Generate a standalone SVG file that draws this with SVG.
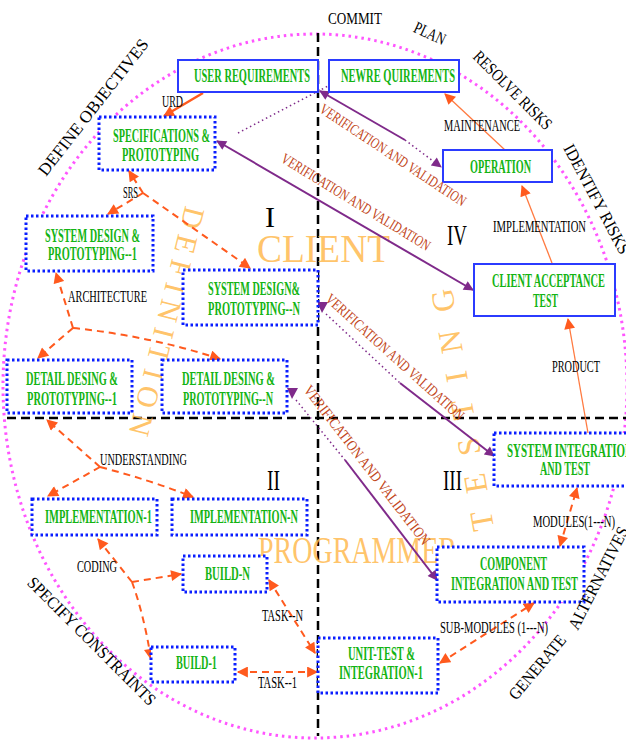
<svg xmlns="http://www.w3.org/2000/svg" width="626" height="740" viewBox="0 0 626 740">
<defs>
<marker id="ao" viewBox="0 0 10 10" refX="9" refY="5" markerWidth="12" markerHeight="11" markerUnits="userSpaceOnUse" orient="auto-start-reverse"><path d="M0,0 L10,5 L0,10 z" fill="#FF5A1E"/></marker>
<marker id="ap" viewBox="0 0 10 10" refX="9" refY="5" markerWidth="12" markerHeight="10" markerUnits="userSpaceOnUse" orient="auto-start-reverse"><path d="M0,0 L10,5 L0,10 z" fill="#7F2A8A"/></marker>
</defs>
<style>
.sb{fill:#fff;stroke:#2B3BFF;stroke-width:2}
.db{fill:#fff;stroke:#0A1EFF;stroke-width:3;stroke-dasharray:2.5 2.5}
.bt{font-family:"Liberation Serif",serif;font-weight:bold;font-size:19px;fill:#14B414;text-anchor:middle}
.lb{font-family:"Liberation Serif",serif;font-size:16px;fill:#000;text-anchor:middle}
.ed{font-family:"Liberation Serif",serif;font-size:17px;fill:#000;text-anchor:middle}
.rn{font-family:"Liberation Serif",serif;font-size:30px;fill:#000;text-anchor:middle}
.vv{font-family:"Liberation Serif",serif;font-size:15px;fill:#C2461A;text-anchor:middle}
.big{font-family:"Liberation Serif",serif;fill:#FFBA50;fill-opacity:0.85;text-anchor:middle}
.od{fill:none;stroke:#FF5A1E;stroke-width:2;stroke-dasharray:7 5}
.os{fill:none;stroke:#FF7A40;stroke-width:1.3}
.ps{fill:none;stroke:#7F2A8A;stroke-width:2}
.pd{fill:none;stroke:#7F2A8A;stroke-width:1.5;stroke-dasharray:1.5 3}
</style>
<rect width="626" height="740" fill="#fff"/>
<ellipse cx="315" cy="386" rx="312" ry="352" fill="none" stroke="#FF55FF" stroke-width="3" stroke-dasharray="2.5 4"/>
<g id="axes" fill="none" stroke="#000" stroke-width="2.5" stroke-dasharray="9 5">
<line x1="318" y1="33" x2="318" y2="736"/>
<line x1="7" y1="418" x2="626" y2="418"/>
</g>
<g id="watermarks">
<text class="big" x="323.5" y="262" font-size="40" textLength="133" lengthAdjust="spacingAndGlyphs">CLIENT</text>
<text class="big" x="357.5" y="563" font-size="38" textLength="199" lengthAdjust="spacingAndGlyphs">PROGRAMMER</text>
<text class="big" transform="translate(473,408) rotate(-100)" font-size="32" textLength="245" lengthAdjust="spacing">TESTING</text>
<text class="big" transform="translate(157,319) rotate(104)" font-size="30" textLength="235" lengthAdjust="spacing">DEFINITION</text>
</g>
<g id="connectors">
<path class="od" d="M143,193 L129,171" marker-end="url(#ao)"/>
<path class="od" d="M143,193 L108,214" marker-end="url(#ao)"/>
<path class="od" d="M143,193 L250,268" marker-end="url(#ao)"/>
<path class="od" d="M73,328 L56,273" marker-end="url(#ao)"/>
<path class="od" d="M73,328 L38,358" marker-end="url(#ao)"/>
<path class="od" d="M73,328 Q150,336 220,359" marker-end="url(#ao)"/>
<path class="od" d="M100,467 L47,420" marker-end="url(#ao)"/>
<path class="od" d="M100,467 L48,496" marker-end="url(#ao)"/>
<path class="od" d="M100,467 Q150,480 193,497" marker-end="url(#ao)"/>
<path class="od" d="M132,582 L98,539" marker-end="url(#ao)"/>
<path class="od" d="M132,582 L181,574" stroke-width="3" marker-end="url(#ao)"/>
<path class="od" d="M132,582 Q144,615 151,659" marker-end="url(#ao)"/>
<path class="od" d="M269,580 L315,653" marker-start="url(#ao)" marker-end="url(#ao)"/>
<path class="od" d="M238,672 L317,672" marker-start="url(#ao)" marker-end="url(#ao)"/>
<path class="od" d="M440,663 L534,603" marker-start="url(#ao)" marker-end="url(#ao)"/>
<path class="od" d="M560,546 L577,488" marker-start="url(#ao)" marker-end="url(#ao)"/>
<path class="os" d="M588,433 L568,319" marker-end="url(#ao)"/>
<path class="os" d="M552,263 L522,186" marker-end="url(#ao)"/>
<path class="os" d="M505,150 L445,94" marker-end="url(#ao)"/>
<path fill="none" stroke="#FF5A1E" stroke-width="2.5" d="M203,93 L164,116" marker-end="url(#ao)"/>
<path class="pd" d="M238,133 L330,85"/>
<path class="ps" d="M405,140 L320,91" marker-end="url(#ap)"/>
<path class="pd" d="M405,140 L441,167" marker-end="url(#ap)"/>
<path class="ps" d="M217,141 L473,290" marker-start="url(#ap)" marker-end="url(#ap)"/>
<path class="pd" d="M326,314 L400,383"/>
<path class="ps" stroke-width="1.5" d="M400,383 L494,456" marker-end="url(#ap)"/>
<polygon points="317,302 328,302 322,313" fill="#7F2A8A"/>
<path class="pd" d="M296,400 L345,460"/>
<path class="ps" stroke-width="1.5" d="M345,460 L437,580" marker-end="url(#ap)"/>
<polygon points="287,388 298,388 292,399" fill="#7F2A8A"/>
</g>
<g id="user-requirements"><rect class="sb" x="178" y="60" width="140" height="32"/><text class="bt" x="252" y="82" textLength="116" lengthAdjust="spacingAndGlyphs">USER REQUIREMENTS</text></g>
<g id="new-requirements"><rect class="sb" x="329" y="60" width="130" height="32"/><text class="bt" x="398" y="82" textLength="114" lengthAdjust="spacingAndGlyphs">NEWRE QUIREMENTS</text></g>
<g id="specifications"><rect class="db" x="99" y="117" width="116" height="53"/><text class="bt" x="161.5" y="142" textLength="97" lengthAdjust="spacingAndGlyphs">SPECIFICATIONS &amp;</text><text class="bt" x="160.5" y="161" textLength="77" lengthAdjust="spacingAndGlyphs">PROTOTYPING</text></g>
<g id="operation"><rect class="sb" x="443" y="150" width="109" height="32"/><text class="bt" x="500.5" y="173" textLength="61" lengthAdjust="spacingAndGlyphs">OPERATION</text></g>
<g id="system-design-1"><rect class="db" x="26" y="216" width="127" height="55"/><text class="bt" x="92.5" y="242" textLength="95" lengthAdjust="spacingAndGlyphs">SYSTEM DESIGN &amp;</text><text class="bt" x="92.5" y="260" textLength="89" lengthAdjust="spacingAndGlyphs">PROTOTYPING--1</text></g>
<g id="system-design-n"><rect class="db" x="183" y="270" width="135" height="55"/><text class="bt" x="254" y="295" textLength="92" lengthAdjust="spacingAndGlyphs">SYSTEM DESIGN&amp;</text><text class="bt" x="254" y="315" textLength="92" lengthAdjust="spacingAndGlyphs">PROTOTYPING--N</text></g>
<g id="detail-design-1"><rect class="db" x="7" y="360" width="125" height="53"/><text class="bt" x="72" y="385" textLength="92" lengthAdjust="spacingAndGlyphs">DETAIL DESING &amp;</text><text class="bt" x="72" y="405" textLength="90" lengthAdjust="spacingAndGlyphs">PROTOTYPING--1</text></g>
<g id="detail-design-n"><rect class="db" x="162" y="360" width="125" height="53"/><text class="bt" x="228.5" y="385" textLength="93" lengthAdjust="spacingAndGlyphs">DETAIL DESING &amp;</text><text class="bt" x="228" y="405" textLength="90" lengthAdjust="spacingAndGlyphs">PROTOTYPING--N</text></g>
<g id="client-acceptance"><rect class="sb" x="474" y="264" width="141" height="52"/><text class="bt" x="548.5" y="287" textLength="113" lengthAdjust="spacingAndGlyphs">CLIENT ACCEPTANCE</text><text class="bt" x="545.5" y="307" textLength="25" lengthAdjust="spacingAndGlyphs">TEST</text></g>
<g id="system-integration"><rect class="db" x="494" y="433" width="146" height="53"/><text class="bt" x="507" y="457" style="text-anchor:start" textLength="126" lengthAdjust="spacingAndGlyphs">SYSTEM INTEGRATION</text><text class="bt" x="565" y="475" textLength="50" lengthAdjust="spacingAndGlyphs">AND TEST</text></g>
<g id="implementation-1"><rect class="db" x="32" y="499" width="125" height="36"/><text class="bt" x="98.5" y="523" textLength="107" lengthAdjust="spacingAndGlyphs">IMPLEMENTATION-1</text></g>
<g id="implementation-n"><rect class="db" x="172" y="499" width="135" height="36"/><text class="bt" x="244" y="523" textLength="108" lengthAdjust="spacingAndGlyphs">IMPLEMENTATION-N</text></g>
<g id="build-n"><rect class="db" x="183" y="556" width="84" height="36"/><text class="bt" x="227.5" y="580" textLength="45" lengthAdjust="spacingAndGlyphs">BUILD-N</text></g>
<g id="build-1"><rect class="db" x="151" y="647" width="84" height="35"/><text class="bt" x="196.5" y="669" textLength="41" lengthAdjust="spacingAndGlyphs">BUILD-1</text></g>
<g id="component-integration"><rect class="db" x="437" y="547" width="147" height="55"/><text class="bt" x="513.5" y="570" textLength="67" lengthAdjust="spacingAndGlyphs">COMPONENT</text><text class="bt" x="514.5" y="590" textLength="127" lengthAdjust="spacingAndGlyphs">INTEGRATION AND TEST</text></g>
<g id="unit-test"><rect class="db" x="318" y="638" width="120" height="55"/><text class="bt" x="381.5" y="660" textLength="67" lengthAdjust="spacingAndGlyphs">UNIT-TEST &amp;</text><text class="bt" x="381" y="679" textLength="84" lengthAdjust="spacingAndGlyphs">INTEGRATION-1</text></g>
<g id="labels">
<text class="lb" x="172.5" y="107" textLength="21" lengthAdjust="spacingAndGlyphs">URD</text>
<text class="lb" x="130.5" y="198" textLength="15" lengthAdjust="spacingAndGlyphs">SRS</text>
<text class="lb" x="107.5" y="302" textLength="79" lengthAdjust="spacingAndGlyphs">ARCHITECTURE</text>
<text class="lb" x="143.5" y="465" textLength="87" lengthAdjust="spacingAndGlyphs">UNDERSTANDING</text>
<text class="lb" x="97" y="572" textLength="40" lengthAdjust="spacingAndGlyphs">CODING</text>
<text class="lb" x="282.5" y="621" textLength="41" lengthAdjust="spacingAndGlyphs">TASK--N</text>
<text class="lb" x="277.5" y="688" textLength="39" lengthAdjust="spacingAndGlyphs">TASK--1</text>
<text class="lb" x="574" y="527" textLength="82" lengthAdjust="spacingAndGlyphs">MODULES(1---N)</text>
<text class="lb" x="494" y="633" textLength="108" lengthAdjust="spacingAndGlyphs">SUB-MODULES (1---N)</text>
<text class="lb" x="482" y="131" textLength="76" lengthAdjust="spacingAndGlyphs">MAINTENANCE</text>
<text class="lb" x="539.5" y="232" textLength="93" lengthAdjust="spacingAndGlyphs">IMPLEMENTATION</text>
<text class="lb" x="576" y="372" textLength="48" lengthAdjust="spacingAndGlyphs">PRODUCT</text>
<text class="rn" x="270" y="227">I</text>
<text class="rn" x="273.5" y="490" textLength="13" lengthAdjust="spacingAndGlyphs">II</text>
<text class="rn" x="452.5" y="490" textLength="19" lengthAdjust="spacingAndGlyphs">III</text>
<text class="rn" x="457" y="245" textLength="20" lengthAdjust="spacingAndGlyphs">IV</text>
<text class="ed" x="355" y="24" textLength="54" lengthAdjust="spacingAndGlyphs">COMMIT</text>
<text class="ed" transform="translate(430,33) rotate(25)" y="6" textLength="33" lengthAdjust="spacingAndGlyphs">PLAN</text>
<text class="ed" transform="translate(513,90) rotate(45)" y="6" textLength="104" lengthAdjust="spacingAndGlyphs">RESOLVE RISKS</text>
<text class="ed" transform="translate(597,199) rotate(62)" y="6" textLength="122" lengthAdjust="spacingAndGlyphs">IDENTIFY RISKS</text>
<text class="ed" transform="translate(93,107) rotate(-52)" y="6" textLength="168" lengthAdjust="spacingAndGlyphs">DEFINE OBJECTIVES</text>
<text class="ed" transform="translate(92,641) rotate(45)" y="6" textLength="174" lengthAdjust="spacingAndGlyphs">SPECIFY CONSTRAINTS</text>
<text class="ed" transform="translate(537,667) rotate(-50)" y="6" textLength="79" lengthAdjust="spacingAndGlyphs">GENERATE</text>
<text class="ed" transform="translate(598,578) rotate(-63)" y="6" textLength="113" lengthAdjust="spacingAndGlyphs">ALTERNATIVES</text>
<text class="vv" transform="translate(393,155) rotate(33.6)" y="5" textLength="172" lengthAdjust="spacingAndGlyphs">VERIFICATION AND VALIDATION</text>
<text class="vv" transform="translate(356,202) rotate(31.5)" y="5" textLength="172" lengthAdjust="spacingAndGlyphs">VERIFICATION AND VALIDATION</text>
<text class="vv" transform="translate(395,357) rotate(42)" y="5" textLength="181" lengthAdjust="spacingAndGlyphs">VERIFICATION AND VALIDATION</text>
<text class="vv" transform="translate(367,465) rotate(52.4)" y="5" textLength="197" lengthAdjust="spacingAndGlyphs">VERIFICATION AND VALIDATION</text>
</g>
</svg>
